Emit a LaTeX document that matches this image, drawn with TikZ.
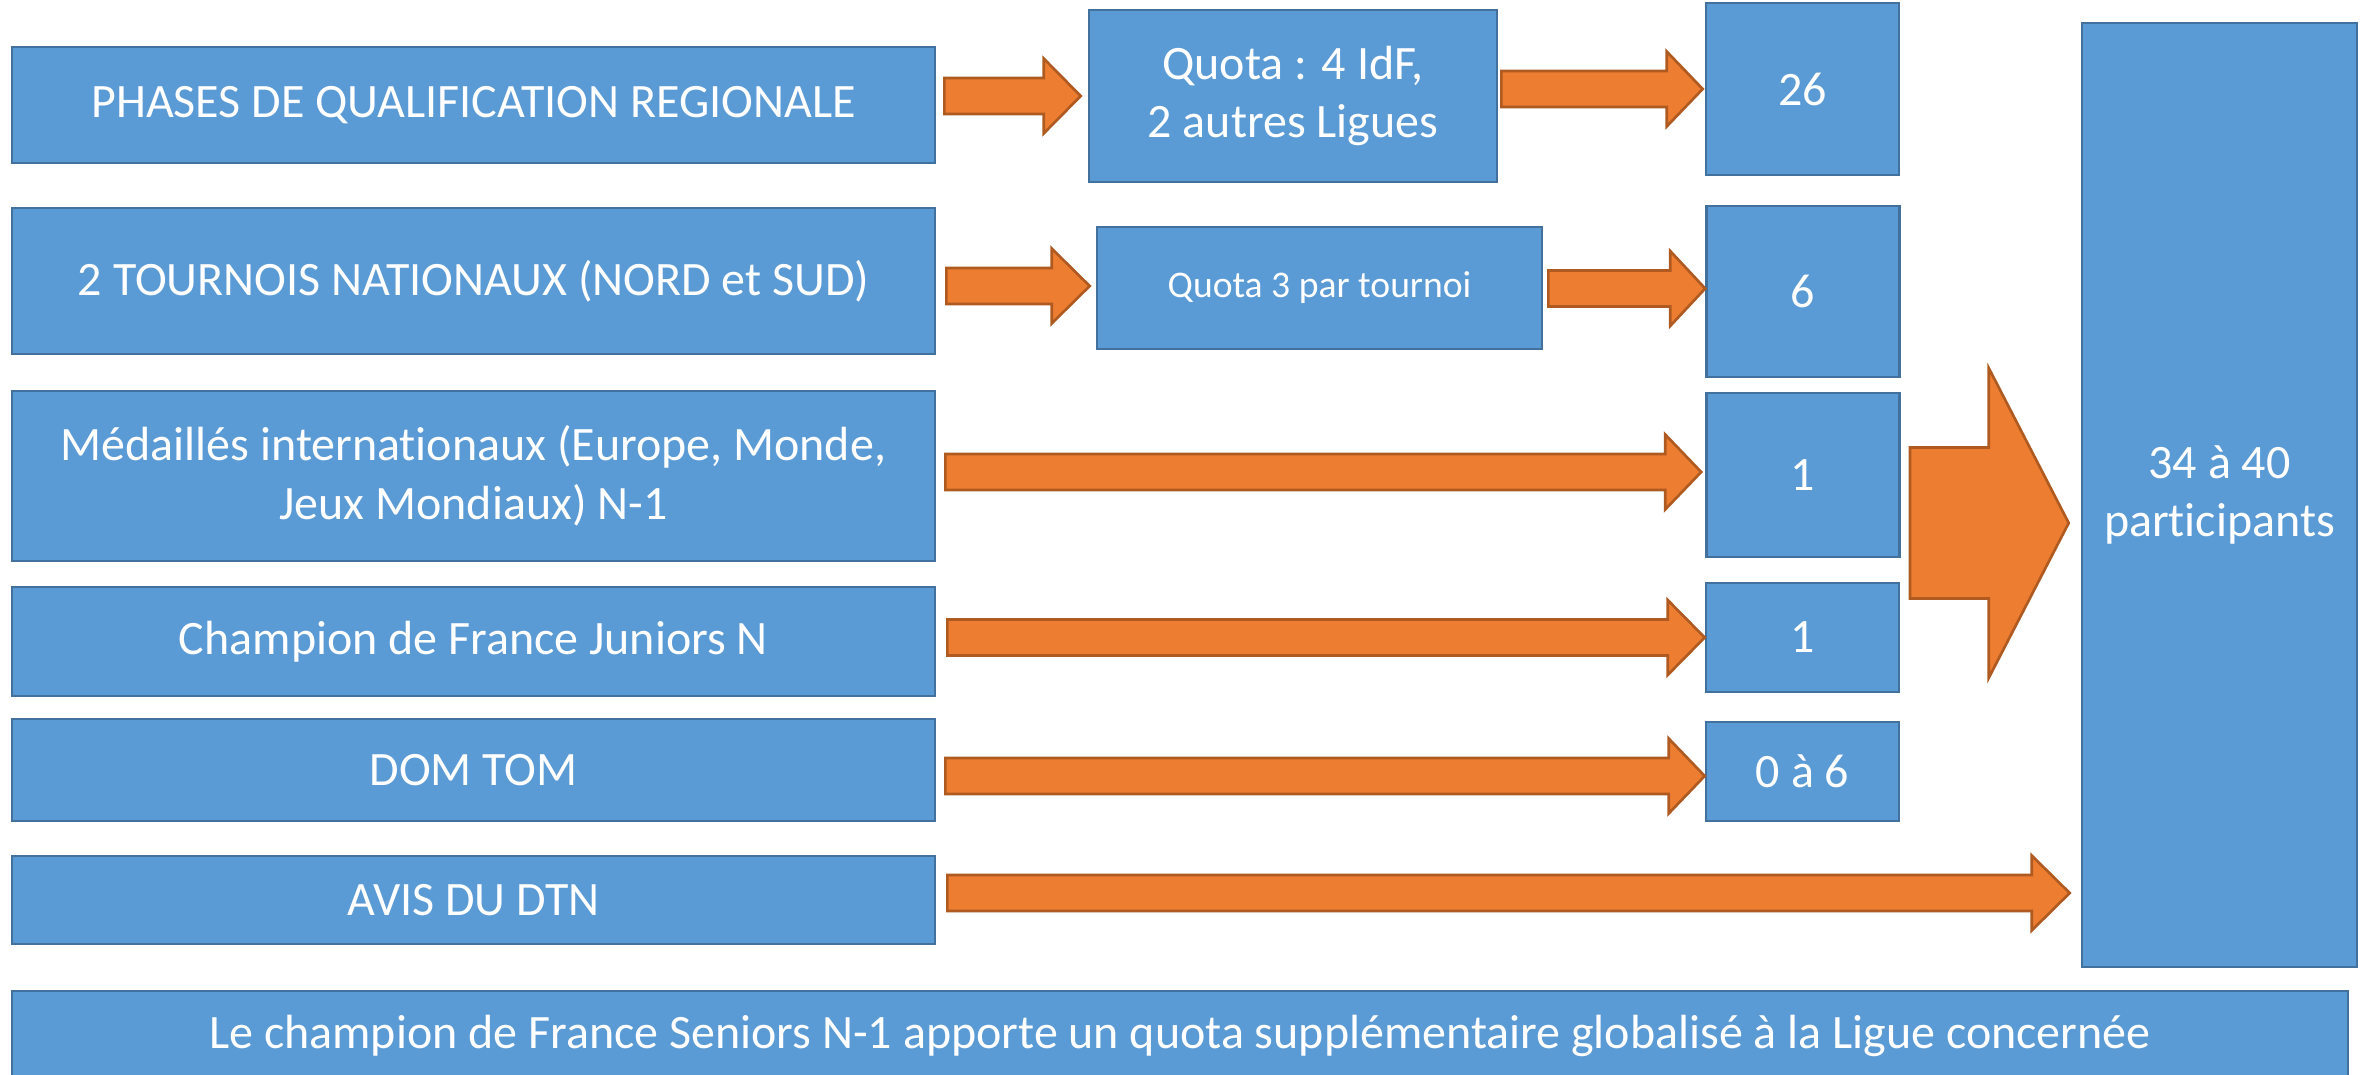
\documentclass[tikz,border=0pt]{standalone}
\usepackage{fontspec}
\setmainfont{Carlito}[Ligatures=NoCommon]
\usetikzlibrary{calc}
\definecolor{bleu}{HTML}{5B9BD5}
\definecolor{bleubord}{HTML}{41719C}
\definecolor{orangefleche}{HTML}{ED7D31}
\definecolor{orangebord}{HTML}{AE5A21}
\tikzset{
  bloc/.style={draw=bleubord, fill=bleu, line width=0.75pt, text=white,
    inner sep=0pt, align=center, font=\fontsize{13.65}{16.7}\selectfont},
  petit/.style={font=\fontsize{10.7}{13}\selectfont},
  flechestyle/.style={draw=orangebord, fill=orangefleche, line width=0.75pt}
}
% #1 depart, #2 arrivee, #3 demi-corps, #4 demi-tete, #5 longueur tete
\newcommand{\fleche}[5]{%
  \draw[flechestyle] let \p1=#1, \p2=#2 in
    (\x1,\y1+#3) -- (\x2-#5,\y1+#3) -- (\x2-#5,\y1+#4) -- (\x2,\y1)
    -- (\x2-#5,\y1-#4) -- (\x2-#5,\y1-#3) -- (\x1,\y1-#3) -- cycle;}
\begin{document}
\begin{tikzpicture}
\useasboundingbox (0,0) rectangle (23.68,-10.74);
% colonne de gauche
\node[bloc, minimum width=9.23cm, minimum height=1.16cm] (phases) at (4.735,-1.05) {PHASES DE QUALIFICATION REGIONALE};
\node[bloc, minimum width=9.23cm, minimum height=1.46cm] (tournois) at (4.735,-2.81) {2 TOURNOIS NATIONAUX (NORD et SUD)};
\node[bloc, minimum width=9.23cm, minimum height=1.70cm] (medailles) at (4.735,-4.76) {Médaillés internationaux (Europe, Monde,\\Jeux Mondiaux) N-1};
\node[bloc, minimum width=9.23cm, minimum height=1.09cm] (juniors) at (4.735,-6.415) {Champion de France Juniors N};
\node[bloc, minimum width=9.23cm, minimum height=1.02cm] (domtom) at (4.735,-7.70) {DOM TOM};
\node[bloc, minimum width=9.23cm, minimum height=0.88cm] (avis) at (4.735,-9.00) {AVIS DU DTN};
\node[bloc, minimum width=23.36cm, minimum height=0.89cm] (seniors) at (11.80,-10.355) {Le champion de France Seniors N-1 apporte un quota supplémentaire globalisé à la Ligue concernée};
% quotas
\node[bloc, minimum width=4.08cm, minimum height=1.72cm] (quotaA) at (12.93,-0.96) {Quota : 4 IdF,\\2 autres Ligues};
\node[bloc, petit, minimum width=4.45cm, minimum height=1.22cm] (quotaB) at (13.195,-2.88) {Quota 3 par tournoi};
% nombres
\node[bloc, minimum width=1.93cm, minimum height=1.72cm] (n26) at (18.025,-0.89) {26};
\node[bloc, minimum width=1.93cm, minimum height=1.71cm] (n6) at (18.03,-2.915) {6};
\node[bloc, minimum width=1.93cm, minimum height=1.64cm] (n1a) at (18.03,-4.75) {1};
\node[bloc, minimum width=1.93cm, minimum height=1.09cm] (n1b) at (18.025,-6.375) {1};
\node[bloc, minimum width=1.93cm, minimum height=0.99cm] (n06) at (18.025,-7.715) {0 à 6};
\node[bloc, minimum width=2.75cm, minimum height=9.44cm] (total) at (22.195,-4.95) {34 à 40\\participants};
\coordinate (groupe) at (19.10,-5.23);
% fleches
\fleche{($(quotaA.west -| phases.east)+(0.08,0)$)}{($(quotaA.west)+(-0.07,0)$)}{0.18cm}{0.375cm}{0.37cm}
\fleche{($(n26.west -| quotaA.east)+(0.03,0)$)}{($(n26.west)+(-0.02,0)$)}{0.18cm}{0.375cm}{0.36cm}
\fleche{($(quotaB.west -| tournois.east)+(0.10,0.02)$)}{($(quotaB.west)+(-0.06,0)$)}{0.18cm}{0.375cm}{0.38cm}
\fleche{($(n6.west -| quotaB.east)+(0.05,0.03)$)}{(n6.west)}{0.18cm}{0.375cm}{0.35cm}
\fleche{($(n1a.west -| medailles.east)+(0.09,0.03)$)}{($(n1a.west)+(-0.04,0)$)}{0.18cm}{0.375cm}{0.36cm}
\fleche{($(n1b.west -| juniors.east)+(0.11,0)$)}{(n1b.west)}{0.18cm}{0.375cm}{0.37cm}
\fleche{($(n06.west -| domtom.east)+(0.09,-0.045)$)}{(n06.west)}{0.18cm}{0.375cm}{0.36cm}
\fleche{($(avis.east)+(0.11,0.07)$)}{($(total.west)+(-0.11,0)$)}{0.18cm}{0.375cm}{0.38cm}
\fleche{(groupe)}{($(total.west)+(-0.12,0)$)}{0.755cm}{1.55cm}{0.80cm}
\end{tikzpicture}
\end{document}
